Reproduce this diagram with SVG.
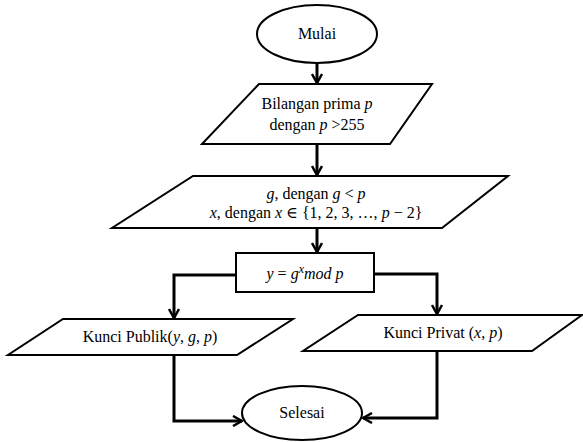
<svg xmlns="http://www.w3.org/2000/svg" width="583" height="442" viewBox="0 0 583 442">
<style>
.s{fill:#fff;stroke:#000;stroke-width:2}
.t{font-family:"Liberation Serif","Times New Roman","DejaVu Serif",serif;font-size:16px;fill:#000;text-anchor:middle}
.m{font-style:italic}
.c{fill:none;stroke:#000;stroke-width:3}
</style>
<defs>
<marker id="a" viewBox="0 0 12 12" refX="11" refY="6" markerWidth="12" markerHeight="12" markerUnits="userSpaceOnUse" orient="auto">
<polyline points="2,1 11,6 2,11" fill="none" stroke="#000" stroke-width="2.5"/>
</marker>
</defs>
<g id="connectors">
<line class="c" x1="317" y1="63" x2="317" y2="83" marker-end="url(#a)"/>
<line class="c" x1="317" y1="144" x2="317" y2="175" marker-end="url(#a)"/>
<line class="c" x1="317" y1="228" x2="317" y2="252" marker-end="url(#a)"/>
<polyline class="c" points="236,275 174,275 174,318" marker-end="url(#a)"/>
<polyline class="c" points="374,274 437,274 437,314" marker-end="url(#a)"/>
<polyline class="c" points="174,355 174,421 242,421" marker-end="url(#a)"/>
<polyline class="c" points="437,351 437,418 363,418" marker-end="url(#a)"/>
</g>
<g id="mulai">
<ellipse class="s" cx="317" cy="34" rx="60" ry="29"/>
<text class="t" x="317" y="39">Mulai</text>
</g>
<g id="input-p">
<polygon class="s" points="259,84 432,84 390,144 202,144"/>
<text class="t" x="317" y="109">Bilangan prima <tspan class="m">p</tspan></text>
<text class="t" x="317" y="130">dengan <tspan class="m">p</tspan> &gt;255</text>
</g>
<g id="input-gx">
<polygon class="s" points="193,176 508,176 442,228 112,228"/>
<text class="t" x="316" y="199"><tspan class="m">g</tspan>, dengan <tspan class="m">g</tspan> &lt; <tspan class="m">p</tspan></text>
<text class="t" x="316" y="218"><tspan class="m">x</tspan>, dengan <tspan class="m">x</tspan> ∈ {1, 2, 3, …, <tspan class="m">p</tspan> − 2}</text>
</g>
<g id="proses">
<rect class="s" x="236" y="253" width="138" height="39"/>
<text class="t" x="305" y="279"><tspan class="m">y</tspan> = <tspan class="m">g</tspan><tspan class="m" font-size="12" dy="-6">x</tspan><tspan class="m" dy="6">mod p</tspan></text>
</g>
<g id="publik">
<polygon class="s" points="63,319 293,319 237,355 8,355"/>
<text class="t" x="150" y="342">Kunci Publik(<tspan class="m">y</tspan>, <tspan class="m">g</tspan>, <tspan class="m">p</tspan>)</text>
</g>
<g id="privat">
<polygon class="s" points="358,315 582,315 532,351 303,351"/>
<text class="t" x="443" y="338">Kunci Privat (<tspan class="m">x</tspan>, <tspan class="m">p</tspan>)</text>
</g>
<g id="selesai">
<ellipse class="s" cx="302" cy="413" rx="60" ry="27"/>
<text class="t" x="302" y="418">Selesai</text>
</g>
</svg>
